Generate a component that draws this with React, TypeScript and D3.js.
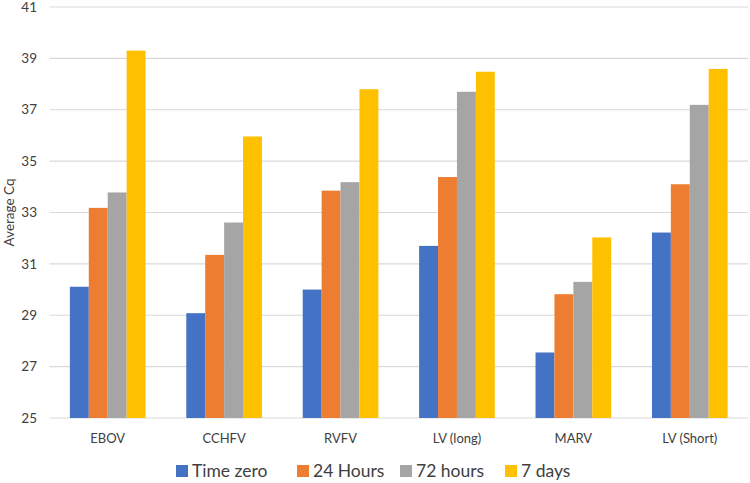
import * as d3 from "d3";

const categories = ["EBOV", "CCHFV", "RVFV", "LV (long)", "MARV", "LV (Short)"];
const seriesNames = ["Time zero", "24 Hours", "72 hours", "7 days"];
const timeZero = [30.11, 29.08, 30.0, 31.7, 27.55, 32.22];
const hours24 = [33.18, 31.35, 33.85, 34.38, 29.82, 34.1];
const hours72 = [33.78, 32.61, 34.18, 37.7, 30.3, 37.19];
const days7 = [39.3, 35.96, 37.8, 38.48, 32.03, 38.59];
const yTicks = [25, 27, 29, 31, 33, 35, 37, 39, 41];
const colors = ["#4472C4", "#ED7D31", "#A5A5A5", "#FFC000"];

const width = 750;
const height = 483;
const margin = { top: 7, right: 2, bottom: 65, left: 49.5 };
const font = "Lato, 'Open Sans', sans-serif";

export default function App() {
  const series = [timeZero, hours24, hours72, days7];

  const x = d3
    .scaleBand<string>()
    .domain(categories)
    .range([margin.left, width - margin.right])
    .paddingInner(0.35)
    .paddingOuter(0.175);

  const x1 = d3
    .scaleBand<string>()
    .domain(seriesNames)
    .range([0, x.bandwidth()]);

  const y = d3
    .scaleLinear()
    .domain([25, 41])
    .range([height - margin.bottom, margin.top]);

  const legendX = [176, 297, 400, 505];

  return (
    <svg
      width={width}
      height={height}
      style={{ position: "absolute", left: 0, top: 0, background: "#fff" }}
    >
      {/* gridlines + y ticks */}
      {yTicks.map((t) => (
        <g key={t}>
          <line
            x1={margin.left}
            x2={width - margin.right}
            y1={y(t)}
            y2={y(t)}
            stroke="#d9d9d9"
            strokeWidth={1.2}
          />
          <text
            x={37}
            y={y(t)}
            dy="0.35em"
            textAnchor="end"
            fontFamily={font}
            fontSize={13.5}
            fill="#404040"
          >
            {t}
          </text>
        </g>
      ))}

      {/* bars */}
      {categories.map((c, i) => (
        <g key={c} transform={`translate(${x(c)},0)`}>
          {series.map((s, j) => (
            <rect
              key={j}
              x={x1(seriesNames[j])}
              width={x1.bandwidth()}
              y={y(s[i])}
              height={y(25) - y(s[i])}
              fill={colors[j]}
            />
          ))}
          <text
            x={x.bandwidth() / 2}
            y={443}
            textAnchor="middle"
            fontFamily={font}
            fontSize={13}
            fill="#404040"
          >
            {c}
          </text>
        </g>
      ))}

      {/* y axis title */}
      <text
        transform={`translate(14,${(y(25) + y(41)) / 2}) rotate(-90)`}
        textAnchor="middle"
        fontFamily={font}
        fontSize={13.5}
        fill="#404040"
      >
        Average Cq
      </text>

      {/* legend */}
      {seriesNames.map((n, j) => (
        <g key={n} transform={`translate(${legendX[j]},0)`}>
          <rect x={0} y={465} width={12} height={12} fill={colors[j]} />
          <text x={16} y={477} fontFamily={font} fontSize={17.5} fill="#404040">
            {n}
          </text>
        </g>
      ))}
    </svg>
  );
}
